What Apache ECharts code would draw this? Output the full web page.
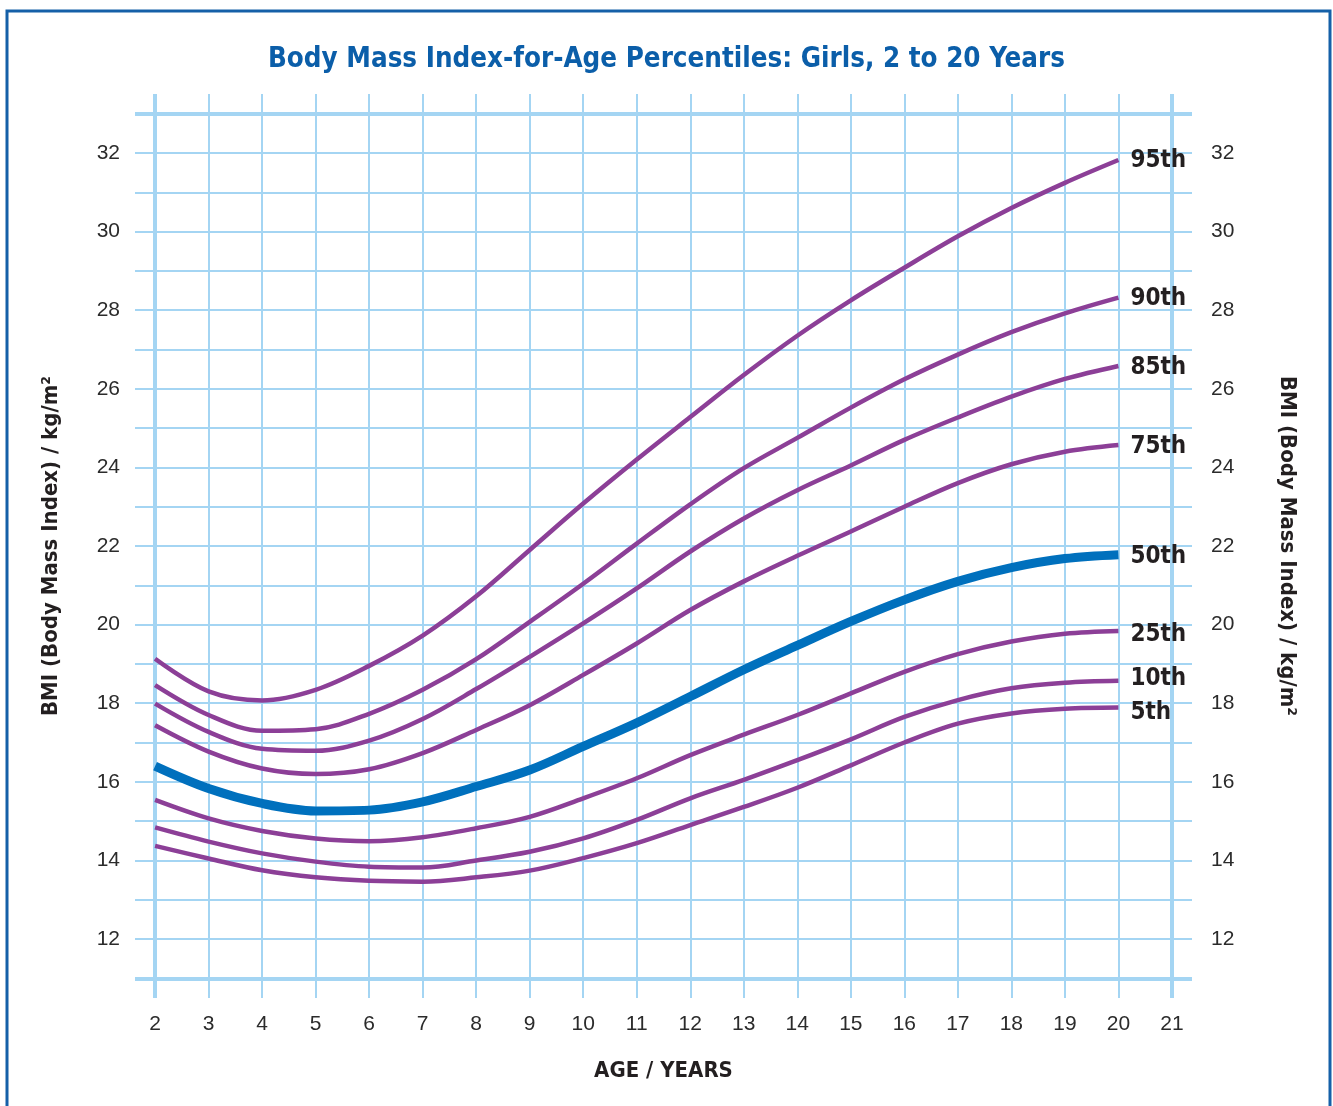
<!DOCTYPE html>
<html>
<head>
<meta charset="utf-8">
<title>BMI-for-Age Percentiles: Girls</title>
<script src="https://cdn.jsdelivr.net/npm/echarts@6/dist/echarts.min.js"></script>
<style>
html, body { margin: 0; padding: 0; background: #fff; }
#Result { width: 1333px; height: 1106px; }
</style>
</head>
<body>
<div id="Result"></div>
<script>
// ages in years (x) and BMI percentile values (kg/m2)
var ages = [2, 3, 4, 5, 6, 7, 8, 9, 10, 11, 12, 13, 14, 15, 16, 17, 18, 19, 20];
var p95 = [19.13, 18.30, 18.07, 18.34, 18.95, 19.72, 20.72, 21.90, 23.08, 24.20, 25.28, 26.35, 27.35, 28.25, 29.08, 29.88, 30.60, 31.24, 31.82];
var p90 = [18.46, 17.70, 17.30, 17.34, 17.73, 18.34, 19.12, 20.07, 21.04, 22.06, 23.06, 23.98, 24.75, 25.52, 26.24, 26.87, 27.44, 27.92, 28.32];
var p85 = [17.99, 17.27, 16.84, 16.79, 17.05, 17.60, 18.36, 19.18, 20.03, 20.92, 21.86, 22.70, 23.42, 24.05, 24.70, 25.27, 25.80, 26.25, 26.58];
var p75 = [17.44, 16.77, 16.34, 16.20, 16.32, 16.73, 17.32, 17.95, 18.72, 19.52, 20.37, 21.10, 21.75, 22.37, 23.00, 23.60, 24.08, 24.40, 24.57];
var p50 = [16.40, 15.83, 15.45, 15.26, 15.28, 15.49, 15.88, 16.30, 16.90, 17.50, 18.17, 18.85, 19.47, 20.08, 20.63, 21.10, 21.45, 21.68, 21.78];
var p25 = [15.54, 15.07, 14.75, 14.56, 14.49, 14.59, 14.82, 15.11, 15.58, 16.09, 16.68, 17.20, 17.70, 18.25, 18.80, 19.25, 19.57, 19.77, 19.84];
var p10 = [14.84, 14.48, 14.18, 13.97, 13.84, 13.82, 14.00, 14.22, 14.56, 15.03, 15.58, 16.05, 16.55, 17.08, 17.65, 18.08, 18.38, 18.52, 18.57];
var p5 = [14.37, 14.05, 13.75, 13.57, 13.48, 13.46, 13.57, 13.74, 14.06, 14.44, 14.90, 15.36, 15.85, 16.42, 17.00, 17.48, 17.74, 17.86, 17.89];
var percentileNames = ['95th', '90th', '85th', '75th', '50th', '25th', '10th', '5th'];
var percentileData = [p95, p90, p85, p75, p50, p25, p10, p5];

// axis ticks
var xTickLabels = [2, 3, 4, 5, 6, 7, 8, 9, 10, 11, 12, 13, 14, 15, 16, 17, 18, 19, 20, 21];
var yTickLabels = [12, 14, 16, 18, 20, 22, 24, 26, 28, 30, 32];
var frameLines = { x: [2, 21], y: [11, 33] };

var dom = document.getElementById("Result");
var myChart = echarts.init(dom);

var condensed = '"DejaVu Sans Condensed", sans-serif';
var gridBlue = '#a4d5f3';
var purple = '#8c3f97';
var blue = '#0070bd';

function pairs(arr) {
    var out = [];
    for (var i = 0; i < ages.length; i++) {
        out.push([ages[i], arr[i]]);
    }
    return out;
}

var labelOffsets = {'95th': [0, 1], '90th': [0, 1], '85th': [0, 2], '75th': [0, 2],
    '50th': [0, 2], '25th': [0, 4], '10th': [0, -2], '5th': [0, 5]};

var seriesList = [];
for (var i = 0; i < percentileNames.length; i++) {
    var name = percentileNames[i];
    var isMedian = name === '50th';
    seriesList.push({
        name: name,
        type: 'line',
        data: pairs(percentileData[i]),
        smooth: 0.35,
        showSymbol: false,
        silent: true,
        z: isMedian ? 4 : 3,
        lineStyle: { color: isMedian ? blue : purple, width: isMedian ? 9 : 4.5, cap: 'butt' },
        endLabel: {
            show: true,
            formatter: name,
            distance: 12,
            offset: labelOffsets[name],
            color: '#231f20',
            fontFamily: condensed,
            fontWeight: 'bold',
            fontSize: 24
        }
    });
}

// heavier frame lines at 2 / 21 years and 11 / 33 BMI
var frameData = [];
for (var k = 0; k < frameLines.x.length; k++) frameData.push({ xAxis: frameLines.x[k] });
for (var k2 = 0; k2 < frameLines.y.length; k2++) frameData.push({ yAxis: frameLines.y[k2] });
seriesList[0].markLine = {
    silent: true,
    symbol: 'none',
    label: { show: false },
    lineStyle: { color: gridBlue, width: 4, type: 'solid' },
    data: frameData,
    z: 1
};

var yLabelFmt = function (v) {
    return yTickLabels.indexOf(v) >= 0 ? String(v) : '';
};

option = {
    backgroundColor: '#fff',
    animation: false,
    title: {
        text: 'Body Mass Index-for-Age Percentiles: Girls, 2 to 20 Years',
        left: 'center',
        top: 41,
        textStyle: { color: '#0b5ea9', fontFamily: condensed, fontWeight: 'bold', fontSize: 27.5 }
    },
    graphic: [{
        type: 'rect',
        shape: { x: 7, y: 11, width: 1323, height: 1110 },
        style: { fill: 'none', stroke: '#1560a8', lineWidth: 3 },
        silent: true
    }],
    grid: { left: 135, right: 141, top: 94, bottom: 108 },
    xAxis: {
        type: 'value',
        min: 1.625,
        max: 21.375,
        minInterval: 1,
        maxInterval: 1,
        name: 'AGE / YEARS',
        nameLocation: 'middle',
        nameGap: 62,
        nameTextStyle: { color: '#231f20', fontFamily: condensed, fontWeight: 'bold', fontSize: 22 },
        axisLine: { show: false },
        axisTick: { show: false },
        axisLabel: {
            margin: 16,
            color: '#2b2b2b',
            fontFamily: 'Liberation Sans',
            fontSize: 21,
            formatter: function (v) { return xTickLabels.indexOf(v) >= 0 ? String(v) : ''; }
        },
        splitLine: { show: true, showMinLine: false, showMaxLine: false, lineStyle: { color: gridBlue, width: 2 } }
    },
    yAxis: [{
        type: 'value',
        position: 'left',
        min: 10.5,
        max: 33.5,
        minInterval: 1,
        maxInterval: 1,
        name: 'BMI (Body Mass Index) / kg/m²',
        nameLocation: 'middle',
        nameGap: 73,
        nameRotate: 90,
        nameTextStyle: { color: '#231f20', fontFamily: condensed, fontWeight: 'bold', fontSize: 22 },
        axisLine: { show: false },
        axisTick: { show: false },
        axisLabel: { margin: 15, color: '#2b2b2b', fontFamily: 'Liberation Sans', fontSize: 21, formatter: yLabelFmt },
        splitLine: { show: true, showMinLine: false, showMaxLine: false, lineStyle: { color: gridBlue, width: 2 } }
    }, {
        type: 'value',
        position: 'right',
        min: 10.5,
        max: 33.5,
        minInterval: 1,
        maxInterval: 1,
        name: 'BMI (Body Mass Index) / kg/m²',
        nameLocation: 'middle',
        nameGap: 84,
        nameRotate: -90,
        nameTextStyle: { color: '#231f20', fontFamily: condensed, fontWeight: 'bold', fontSize: 22 },
        axisLine: { show: false },
        axisTick: { show: false },
        axisLabel: { margin: 19, color: '#2b2b2b', fontFamily: 'Liberation Sans', fontSize: 21, formatter: yLabelFmt },
        splitLine: { show: false }
    }],
    series: seriesList
};

if (option && typeof option === "object") {
    myChart.setOption(option, true);
}
</script>
</body>
</html>
